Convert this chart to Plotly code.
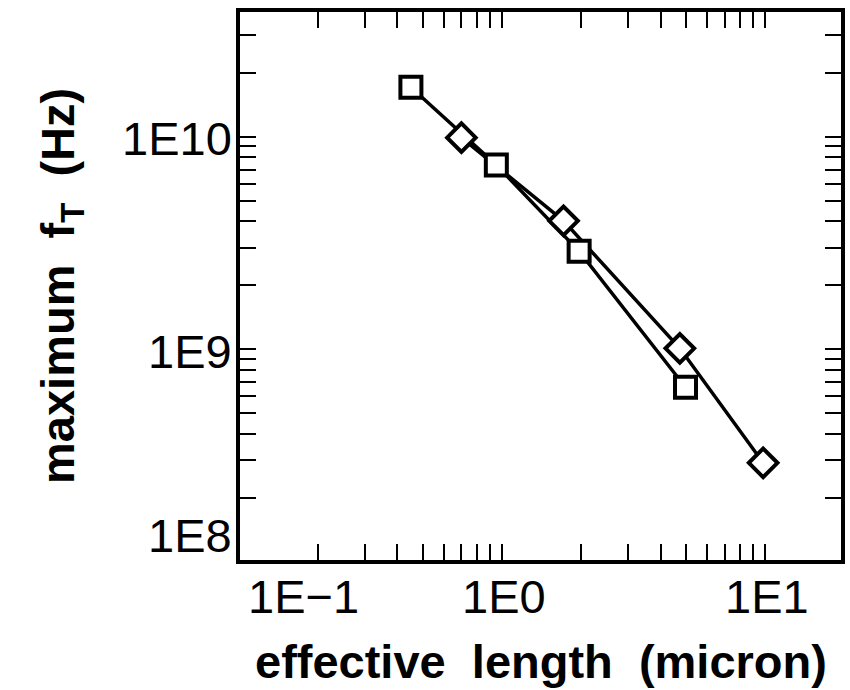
import numpy as np
import plotly.graph_objects as go

# ---- data ----
square_x = [0.45, 0.95, 1.96, 4.97]
square_y = [1.71e10, 7.36e9, 2.89e9, 6.62e8]
diamond_x = [0.70, 1.71, 4.73, 9.8]
diamond_y = [9.9e9, 4.02e9, 1.01e9, 2.92e8]

x_label_vals = [0.1, 1, 10]
x_label_text = ["1E\u22121", "1E0", "1E1"]
y_label_vals = [1e8, 1e9, 1e10]
y_label_text = ["1E8", "1E9", "1E10"]

x_title = "effective\u00a0\u00a0length\u00a0\u00a0(micron)"
y_title = "maximum\u00a0\u00a0f<sub>T</sub>\u00a0\u00a0(Hz)"

# tick marks: every 1..9 multiple per decade inside the range
x_ticks = [m * 10.0 ** e for e in (-1, 0) for m in range(2, 11)]
y_ticks = [m * 10.0 ** e for e in (8, 9) for m in range(2, 11)] + [2e10, 3e10]

X_RANGE = [-0.996, 1.287]
Y_RANGE = [8.008, 10.587]

TICK_FONT = dict(family="Liberation Sans Narrow, Arial Narrow, Liberation Sans, sans-serif",
                 size=47, color="black")
TITLE_FONT = dict(family="Liberation Sans, Arial, sans-serif", size=47, color="black",
                  weight="bold")

fig = go.Figure()

# lines first so that the white-filled markers sit on top of both lines
for xs, ys in ((square_x, square_y), (diamond_x, diamond_y)):
    fig.add_trace(go.Scatter(x=xs, y=ys, mode="lines",
                             line=dict(color="black", width=3.5),
                             showlegend=False, hoverinfo="skip"))
for xs, ys, sym, sz in ((square_x, square_y, "square", 21),
                        (diamond_x, diamond_y, "diamond", 22)):
    fig.add_trace(go.Scatter(x=xs, y=ys, mode="markers",
                             marker=dict(symbol=sym, size=sz, color="white",
                                         line=dict(color="black", width=4)),
                             showlegend=False))

axis_common = dict(type="log", showgrid=False, zeroline=False,
                   showline=True, linecolor="black", linewidth=4,
                   mirror="allticks", ticks="inside", ticklen=16, tickwidth=2,
                   tickcolor="black", showticklabels=False)

fig.update_xaxes(range=X_RANGE, tickmode="array", tickvals=x_ticks, **axis_common)
fig.update_yaxes(range=Y_RANGE, tickmode="array", tickvals=y_ticks, **axis_common)

annotations = []
# x tick labels (the one at the left edge is kept inside the frame)
for v, t in zip(x_label_vals, x_label_text):
    lv = np.log10(v)
    if lv < X_RANGE[0]:
        a = dict(x=0, xref="paper", xanchor="left", xshift=6)
    else:
        a = dict(x=lv, xref="x", xanchor="center", xshift=2)
    a.update(y=0, yref="paper", text=t, showarrow=False, font=TICK_FONT,
             yanchor="top", yshift=-8)
    annotations.append(a)
# y tick labels (the one at the bottom edge is kept inside the frame)
for v, t in zip(y_label_vals, y_label_text):
    lv = np.log10(v)
    if lv < Y_RANGE[0]:
        a = dict(y=0, yref="paper", yanchor="bottom", yshift=-4)
    else:
        a = dict(y=lv, yref="y", yanchor="middle", yshift=-2)
    a.update(x=0, xref="paper", text=t, showarrow=False, font=TICK_FONT,
             xanchor="right", xshift=-6)
    annotations.append(a)
# axis titles
annotations.append(dict(x=0.5, y=0, xref="paper", yref="paper", text=x_title,
                        showarrow=False, font=TITLE_FONT, xanchor="center",
                        yanchor="middle", yshift=-101))
annotations.append(dict(x=0, y=0.5, xref="paper", yref="paper", text=y_title,
                        showarrow=False, font=TITLE_FONT, textangle=-90,
                        xanchor="center", yanchor="middle", xshift=-179))

fig.update_layout(width=850, height=690,
                  margin=dict(l=240, r=5, t=12, b=130, pad=0),
                  paper_bgcolor="white", plot_bgcolor="white",
                  annotations=annotations, showlegend=False)

fig.write_html("out.html")
